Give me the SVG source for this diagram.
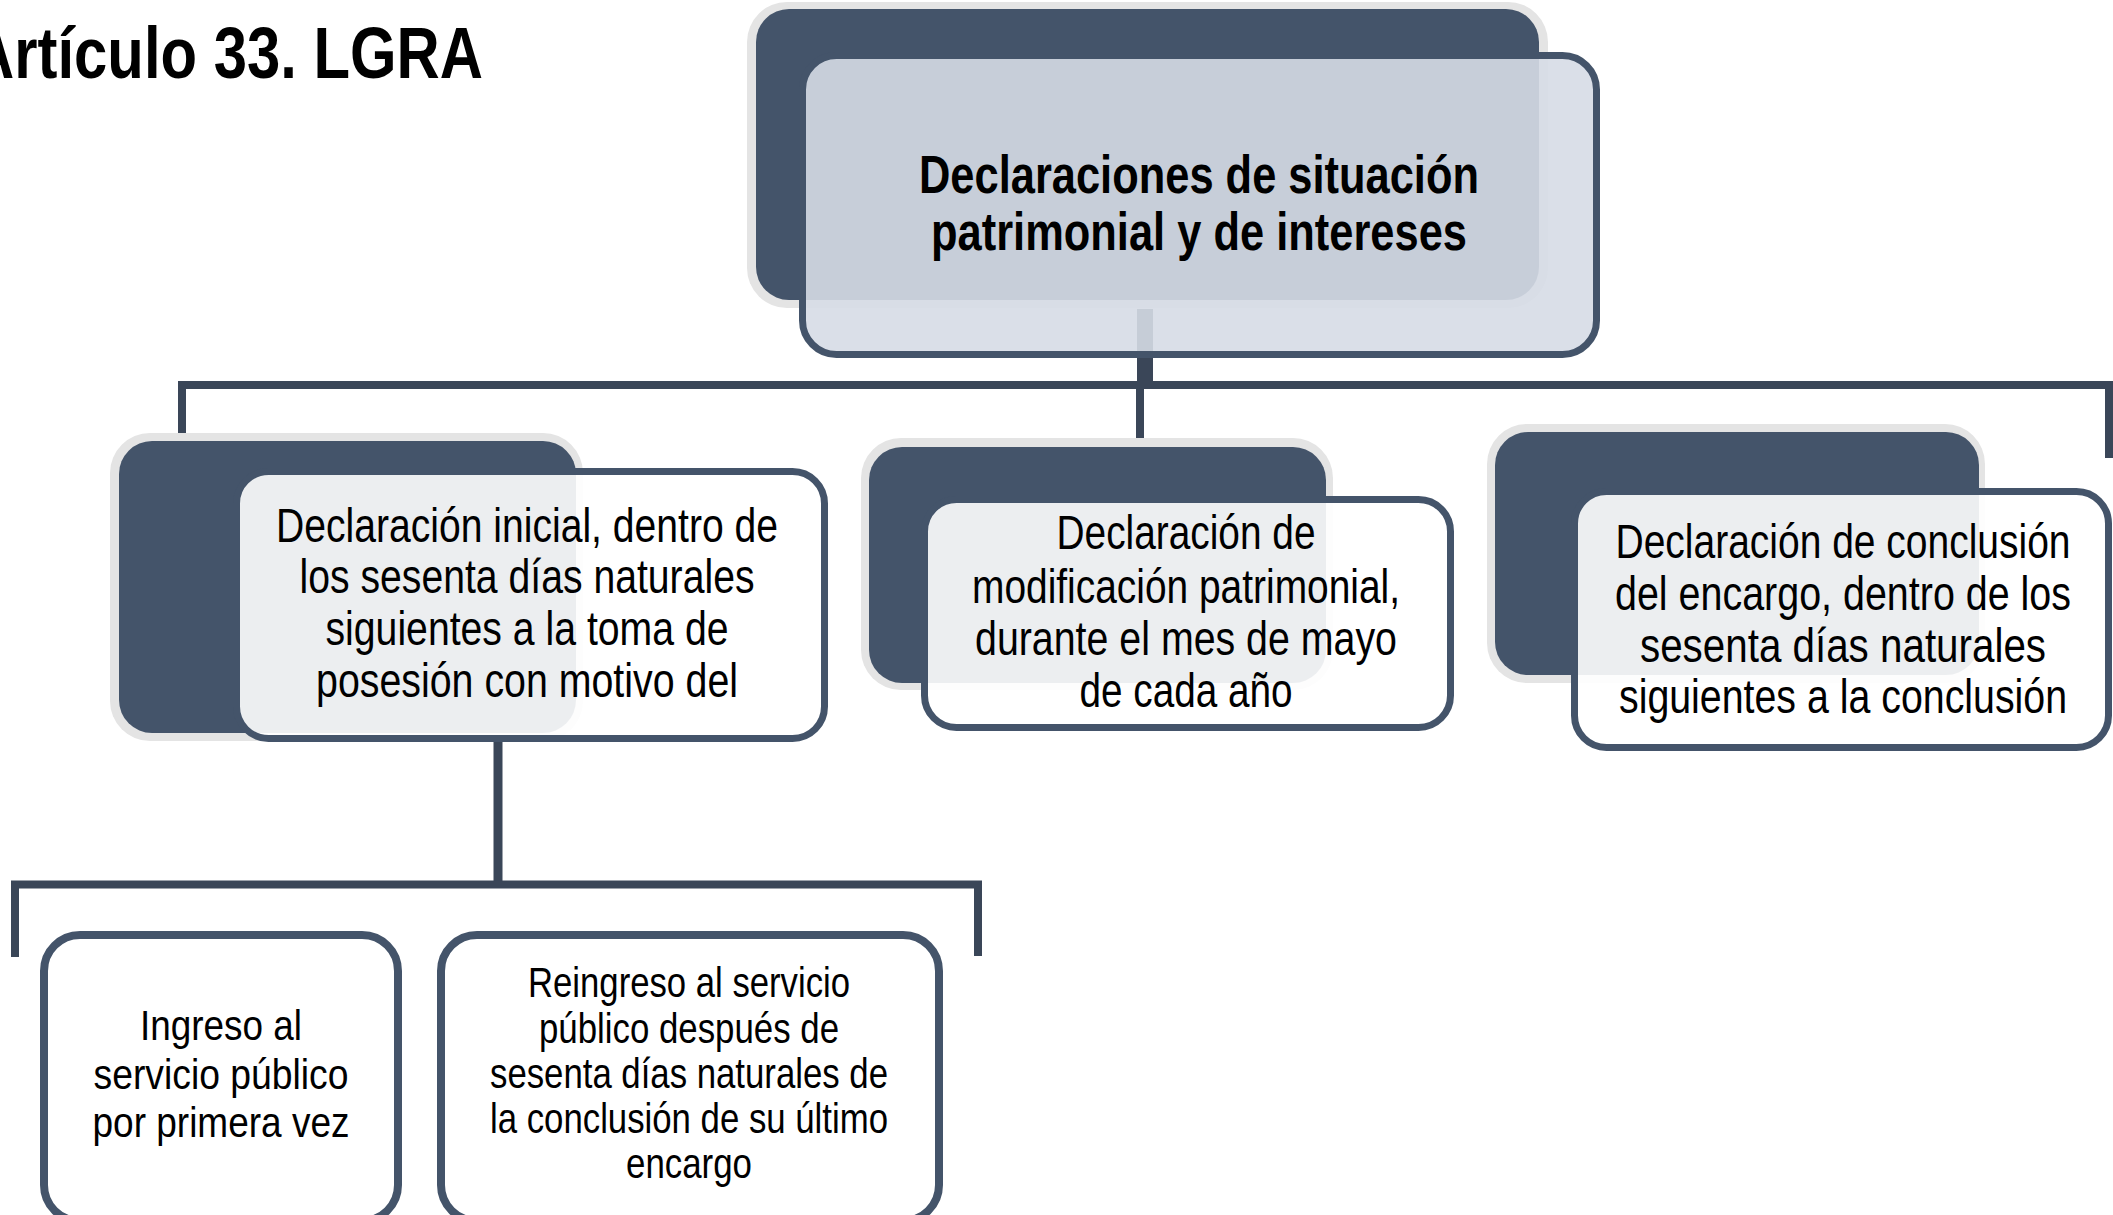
<svg xmlns="http://www.w3.org/2000/svg" width="2113" height="1215" viewBox="0 0 2113 1215">
<style>
  .t { font-family: "Liberation Sans Narrow", "Arial Narrow", "Liberation Sans", Arial, sans-serif; fill: #000; text-anchor: middle; }
  .b { font-weight: bold; }
  .l2 { font-size: 48px; }
  .l3 { font-size: 43px; }
  .halo { fill: #e4e4e4; }
  .back { fill: #44546a; }
  .front { fill: #ffffff; fill-opacity: 0.9; stroke: #44546a; stroke-width: 7; }
  .frontTop { fill: #d6dce5; fill-opacity: 0.9; stroke: #44546a; stroke-width: 7; }
  .leaf { fill: #ffffff; stroke: #44546a; stroke-width: 8; }
  .c { fill: none; stroke: #3a4658; stroke-width: 8; stroke-linejoin: miter; }
</style>
<rect x="0" y="0" width="2113" height="1215" fill="#ffffff"/>
<text class="t b" x="483" y="78" font-size="73" style="text-anchor:end" textLength="512" lengthAdjust="spacingAndGlyphs">Artículo 33. LGRA</text>
<g id="connectors">
  <path class="c" d="M1145,309 V389" style="stroke-width:16"/>
  <path class="c" d="M182,434 V385 H2113"/>
  <path class="c" d="M1140,385 V440"/>
  <path class="c" d="M2109,385 V458"/>
  <path class="c" d="M498,742 V885" style="stroke-width:9"/>
  <path class="c" d="M15,957 V884.5 H978 V956"/>
</g>
<g id="node-root">
  <rect class="halo" x="747" y="2" width="801" height="306" rx="40"/>
  <rect class="back" x="756" y="9" width="783" height="291" rx="33"/>
  <rect class="frontTop" x="802.5" y="55.5" width="794" height="299" rx="34"/>
  <text class="t b" font-size="53" x="1199" y="193" textLength="560" lengthAdjust="spacingAndGlyphs">Declaraciones de situación</text>
  <text class="t b" font-size="53" x="1199" y="250" textLength="536" lengthAdjust="spacingAndGlyphs">patrimonial y de intereses</text>
</g>
<g id="node-inicial">
  <rect class="halo" x="110" y="433" width="473" height="308" rx="40"/>
  <rect class="back" x="119" y="441" width="457" height="292" rx="33"/>
  <rect class="front" x="236.5" y="471.5" width="588" height="267" rx="32"/>
  <text class="t l2" x="527" y="542" textLength="502" lengthAdjust="spacingAndGlyphs">Declaración inicial, dentro de</text>
  <text class="t l2" x="527" y="593" textLength="455" lengthAdjust="spacingAndGlyphs">los sesenta días naturales</text>
  <text class="t l2" x="527" y="645" textLength="403" lengthAdjust="spacingAndGlyphs">siguientes a la toma de</text>
  <text class="t l2" x="527" y="697" textLength="422" lengthAdjust="spacingAndGlyphs">posesión con motivo del</text>
</g>
<g id="node-modificacion">
  <rect class="halo" x="861" y="438" width="472" height="252" rx="40"/>
  <rect class="back" x="869" y="447" width="457" height="236" rx="33"/>
  <rect class="front" x="924.5" y="499.5" width="526" height="228" rx="32"/>
  <text class="t l2" x="1186" y="549" textLength="259" lengthAdjust="spacingAndGlyphs">Declaración de</text>
  <text class="t l2" x="1186" y="603" textLength="428" lengthAdjust="spacingAndGlyphs">modificación patrimonial,</text>
  <text class="t l2" x="1186" y="655" textLength="422" lengthAdjust="spacingAndGlyphs">durante el mes de mayo</text>
  <text class="t l2" x="1186" y="707" textLength="213" lengthAdjust="spacingAndGlyphs">de cada año</text>
</g>
<g id="node-conclusion">
  <rect class="halo" x="1487" y="424" width="498" height="259" rx="40"/>
  <rect class="back" x="1495" y="432" width="484" height="243" rx="33"/>
  <rect class="front" x="1574.5" y="491.5" width="534" height="256" rx="32"/>
  <text class="t l2" x="1843" y="558" textLength="455" lengthAdjust="spacingAndGlyphs">Declaración de conclusión</text>
  <text class="t l2" x="1843" y="610" textLength="456" lengthAdjust="spacingAndGlyphs">del encargo, dentro de los</text>
  <text class="t l2" x="1843" y="662" textLength="406" lengthAdjust="spacingAndGlyphs">sesenta días naturales</text>
  <text class="t l2" x="1843" y="713" textLength="448" lengthAdjust="spacingAndGlyphs">siguientes a la conclusión</text>
</g>
<g id="node-ingreso">
  <rect class="leaf" x="44" y="935" width="354" height="286" rx="36"/>
  <text class="t l3" x="221" y="1040" textLength="162" lengthAdjust="spacingAndGlyphs">Ingreso al</text>
  <text class="t l3" x="221" y="1089" textLength="255" lengthAdjust="spacingAndGlyphs">servicio público</text>
  <text class="t l3" x="221" y="1137" textLength="257" lengthAdjust="spacingAndGlyphs">por primera vez</text>
</g>
<g id="node-reingreso">
  <rect class="leaf" x="441" y="935" width="498" height="286" rx="36"/>
  <text class="t l3" x="689" y="997" textLength="322" lengthAdjust="spacingAndGlyphs">Reingreso al servicio</text>
  <text class="t l3" x="689" y="1043" textLength="300" lengthAdjust="spacingAndGlyphs">público después de</text>
  <text class="t l3" x="689" y="1088" textLength="398" lengthAdjust="spacingAndGlyphs">sesenta días naturales de</text>
  <text class="t l3" x="689" y="1133" textLength="398" lengthAdjust="spacingAndGlyphs">la conclusión de su último</text>
  <text class="t l3" x="689" y="1178" textLength="126" lengthAdjust="spacingAndGlyphs">encargo</text>
</g>
</svg>
